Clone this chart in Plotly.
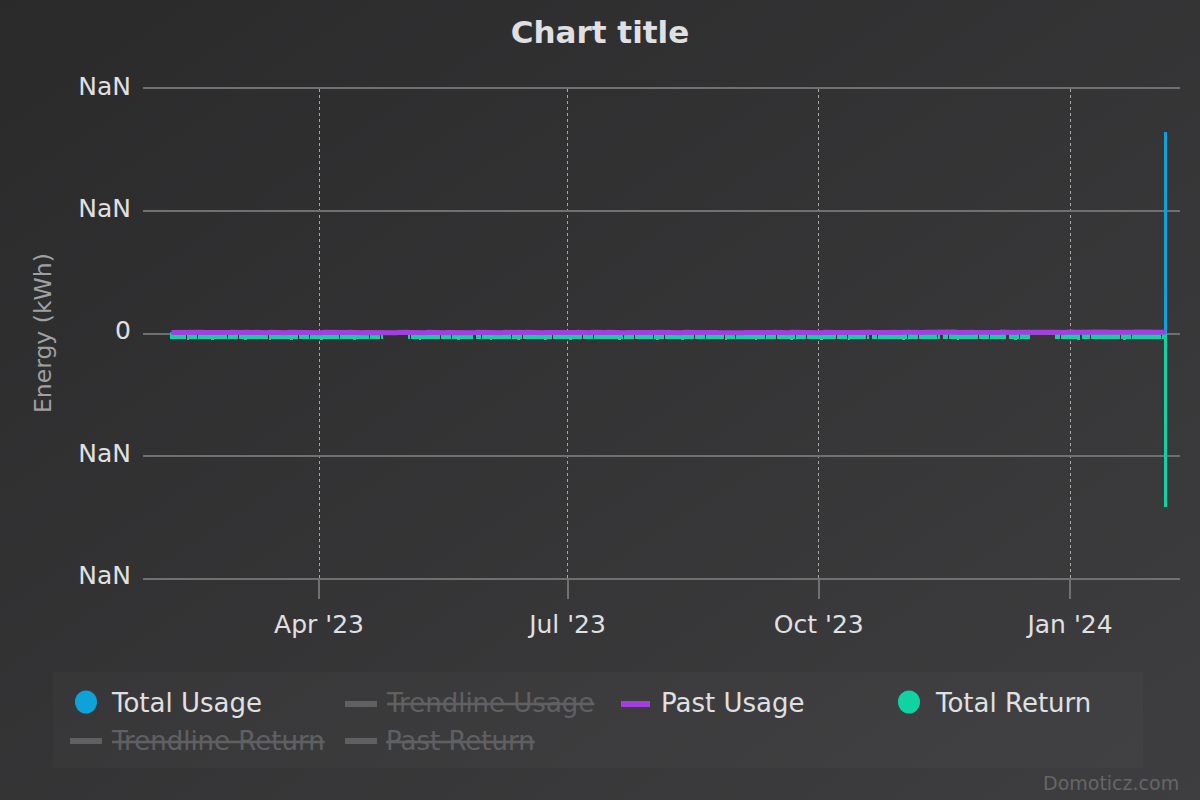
import base64
import pandas as pd
import plotly.graph_objects as go

# ---------------- data ----------------
start_date = "2023-02-06"
n_days = 365
dates = pd.date_range(start_date, periods=n_days, freq="D")

N = None
total_usage = [
    0.14,0.17,0.12,0.19,0.15,0.13,0.18,0.16,0.11,0.20,0.14,0.17,0.15,0.12,0.18,0.16,0.13,0.19,0.14,0.15,
    0.16,0.13,0.18,0.12,0.17,0.15,0.19,0.14,0.12,0.16,0.18,0.13,0.15,0.17,0.11,0.19,0.14,0.16,0.12,0.18,
    0.15,0.12,0.17,0.14,0.19,0.13,0.16,0.18,0.12,0.15,0.17,0.14,0.11,0.16,0.19,0.13,0.15,0.17,0.12,0.14,
    0.13,0.16,0.18,0.12,0.15,0.17,0.14,0.11,0.19,0.16,0.13,0.15,0.18,0.12,0.14,0.17,0.16,0.13,N,N,
    N,N,N,N,N,N,N,0.15,0.18,0.13,0.16,0.12,0.17,0.14,0.19,0.15,0.11,0.16,0.13,0.18,
    0.14,0.12,0.17,0.15,0.19,0.13,0.16,0.11,0.18,0.14,0.15,N,0.17,0.13,0.16,0.12,0.19,0.15,0.14,0.17,
    0.12,0.16,0.14,0.18,0.13,0.15,0.17,0.11,0.16,0.19,0.14,0.12,0.15,0.18,0.13,0.17,0.14,0.16,0.12,0.15,
    0.17,0.13,0.15,0.12,0.18,0.16,0.14,0.19,0.11,0.15,0.17,0.13,0.16,0.14,0.18,0.12,0.15,0.17,0.13,0.16,
    0.14,0.18,0.12,0.16,0.15,0.13,0.19,0.17,0.14,0.11,0.16,0.15,0.18,0.12,0.17,0.14,0.13,0.16,0.19,0.15,
    0.13,0.15,0.17,0.12,0.14,0.18,0.16,0.13,0.15,0.19,0.12,0.17,0.14,0.16,0.11,0.18,0.15,0.13,0.17,0.14,
    0.16,0.12,0.18,0.14,0.15,0.17,0.13,0.19,0.16,0.12,0.14,0.18,0.15,0.13,0.17,0.11,0.16,0.14,0.19,0.15,
    0.15,0.17,0.13,0.16,0.12,0.18,0.14,0.15,0.17,0.13,0.19,0.16,0.12,0.14,0.18,0.15,0.13,0.17,0.16,0.14,
    0.18,0.14,0.16,0.13,0.17,0.15,0.12,0.19,0.14,0.16,0.13,0.18,0.15,0.11,0.17,0.14,N,0.16,0.13,0.18,
    0.17,0.15,0.19,0.13,0.16,0.14,0.18,0.12,0.17,0.15,0.20,0.14,0.16,0.19,0.13,0.18,0.15,0.17,0.21,0.14,
    0.19,0.16,N,0.18,0.15,0.20,0.17,0.14,0.19,0.16,0.21,0.15,0.18,0.17,0.20,0.14,0.19,0.16,0.18,0.21,
    0.17,0.20,0.16,0.19,0.15,0.18,N,0.21,0.17,0.19,0.16,0.20,0.18,0.15,0.19,N,N,N,N,N,
    N,N,N,N,0.20,0.17,0.21,0.18,0.16,0.19,0.22,0.17,0.20,N,0.18,0.21,0.16,0.19,0.20,0.17,
    0.21,0.18,0.20,0.16,0.19,0.22,0.17,0.20,0.18,0.21,0.16,0.19,0.20,0.18,0.22,0.17,0.19,0.21,0.18,0.20,
    0.19,0.17,0.21,0.18,16.5,
]

total_return = [
    -0.46,-0.43,-0.49,-0.45,-0.48,-0.44,-0.50,-0.46,-0.42,-0.48,-0.45,-0.49,-0.44,-0.47,-0.43,-0.50,-0.46,-0.45,-0.48,-0.44,
    -0.47,-0.45,-0.42,-0.49,-0.46,-0.44,-0.48,-0.50,-0.45,-0.43,-0.47,-0.49,-0.44,-0.46,-0.48,-0.42,-0.50,-0.45,-0.47,-0.44,
    -0.45,-0.48,-0.44,-0.46,-0.50,-0.43,-0.47,-0.45,-0.49,-0.44,-0.46,-0.48,-0.42,-0.47,-0.45,-0.50,-0.44,-0.46,-0.49,-0.43,
    -0.48,-0.44,-0.46,-0.49,-0.43,-0.47,-0.45,-0.50,-0.44,-0.46,-0.48,-0.42,-0.47,-0.45,-0.49,-0.44,-0.46,-0.48,N,N,
    N,N,N,N,N,N,N,-0.45,-0.48,-0.43,-0.47,-0.50,-0.44,-0.46,-0.49,-0.45,-0.42,-0.48,-0.46,-0.44,
    -0.47,-0.43,-0.49,-0.45,-0.46,-0.50,-0.44,-0.48,-0.42,-0.47,-0.45,N,-0.49,-0.44,-0.46,-0.48,-0.43,-0.50,-0.45,-0.47,
    -0.44,-0.48,-0.46,-0.42,-0.49,-0.45,-0.47,-0.50,-0.43,-0.46,-0.48,-0.44,-0.45,-0.49,-0.47,-0.43,-0.46,-0.50,-0.44,-0.48,
    -0.45,-0.49,-0.43,-0.47,-0.46,-0.44,-0.50,-0.45,-0.48,-0.42,-0.47,-0.49,-0.44,-0.46,-0.48,-0.45,-0.43,-0.49,-0.47,-0.44,
    -0.48,-0.45,-0.47,-0.43,-0.50,-0.46,-0.44,-0.49,-0.45,-0.47,-0.42,-0.48,-0.46,-0.44,-0.49,-0.45,-0.47,-0.43,-0.50,-0.46,
    -0.44,-0.47,-0.49,-0.45,-0.43,-0.48,-0.46,-0.50,-0.44,-0.47,-0.45,-0.42,-0.49,-0.46,-0.48,-0.44,-0.45,-0.47,-0.43,-0.49,
    -0.46,-0.44,-0.48,-0.50,-0.45,-0.43,-0.47,-0.46,-0.49,-0.44,-0.48,-0.45,-0.42,-0.47,-0.50,-0.46,-0.44,-0.48,-0.45,-0.43,
    -0.49,-0.45,-0.44,-0.47,-0.46,-0.48,-0.43,-0.50,-0.45,-0.47,-0.44,-0.49,-0.46,-0.42,-0.48,-0.45,-0.47,-0.44,-0.50,-0.46,
    -0.45,-0.48,-0.43,-0.46,-0.49,-0.44,-0.47,-0.45,-0.50,-0.43,-0.46,-0.48,-0.44,-0.47,-0.45,-0.49,N,-0.46,-0.43,-0.48,
    -0.44,-0.47,-0.45,-0.49,-0.43,-0.46,-0.48,-0.44,-0.50,-0.45,-0.47,-0.42,-0.46,-0.49,-0.44,-0.48,-0.45,-0.43,-0.47,-0.46,
    -0.48,-0.44,N,-0.46,-0.49,-0.43,-0.47,-0.45,-0.50,-0.44,-0.46,-0.48,-0.42,-0.47,-0.45,-0.49,-0.44,-0.46,-0.48,-0.43,
    -0.47,-0.45,-0.49,-0.44,-0.46,-0.48,N,-0.43,-0.47,-0.50,-0.45,-0.46,-0.44,-0.48,-0.45,N,N,N,N,N,
    N,N,N,N,-0.46,-0.49,-0.44,-0.47,-0.45,-0.43,-0.48,-0.46,-0.50,N,-0.45,-0.47,-0.44,-0.49,-0.46,-0.43,
    -0.48,-0.45,-0.47,-0.44,-0.49,-0.46,-0.43,-0.48,-0.45,-0.50,-0.44,-0.47,-0.46,-0.49,-0.45,-0.43,-0.48,-0.46,-0.44,-0.47,
    -0.45,-0.49,-0.46,-0.44,-14.2,
]

past_usage = [
    0.08,0.09,0.07,0.10,0.08,0.06,0.09,0.11,0.08,0.07,0.09,0.10,0.08,0.07,0.09,0.08,0.10,0.06,0.09,0.08,
    0.07,0.09,0.10,0.08,0.06,0.09,0.08,0.11,0.07,0.09,0.08,0.10,0.07,0.08,0.09,0.06,0.10,0.08,0.09,0.07,
    0.09,0.08,0.06,0.10,0.09,0.07,0.08,0.11,0.09,0.07,0.08,0.10,0.06,0.09,0.08,0.07,0.10,0.09,0.08,0.06,
    0.08,0.10,0.09,0.07,0.08,0.11,0.09,0.06,0.08,0.10,0.07,0.09,0.08,0.10,0.07,0.09,0.11,0.08,0.07,0.09,
    0.10,0.08,0.07,0.09,0.06,0.08,0.10,0.09,0.07,0.08,0.11,0.09,0.08,0.06,0.10,0.08,0.09,0.07,0.10,0.08,
    0.07,0.09,0.08,0.10,0.06,0.09,0.07,0.08,0.11,0.09,0.08,0.07,0.10,0.09,0.06,0.08,0.09,0.10,0.07,0.08,
    0.09,0.07,0.10,0.08,0.09,0.06,0.08,0.11,0.07,0.09,0.10,0.08,0.07,0.09,0.08,0.10,0.06,0.09,0.08,0.07,
    0.08,0.10,0.07,0.09,0.08,0.11,0.06,0.09,0.08,0.10,0.07,0.08,0.09,0.07,0.10,0.08,0.09,0.06,0.10,0.08,
    0.10,0.08,0.09,0.06,0.08,0.10,0.07,0.09,0.08,0.07,0.11,0.09,0.08,0.10,0.07,0.09,0.06,0.08,0.10,0.09,
    0.07,0.09,0.08,0.10,0.07,0.08,0.09,0.06,0.10,0.08,0.09,0.07,0.11,0.08,0.09,0.07,0.08,0.10,0.06,0.09,
    0.08,0.07,0.10,0.09,0.08,0.06,0.09,0.10,0.08,0.07,0.09,0.08,0.11,0.07,0.09,0.08,0.10,0.06,0.08,0.09,
    0.09,0.10,0.08,0.07,0.09,0.08,0.06,0.10,0.09,0.08,0.07,0.10,0.08,0.09,0.11,0.07,0.08,0.09,0.07,0.10,
    0.08,0.09,0.07,0.10,0.08,0.09,0.11,0.08,0.07,0.10,0.09,0.08,0.10,0.07,0.09,0.08,0.10,0.09,0.11,0.08,
    0.10,0.09,0.08,0.11,0.09,0.10,0.08,0.12,0.09,0.10,0.11,0.09,0.08,0.10,0.12,0.09,0.10,0.11,0.09,0.10,
    0.11,0.09,0.12,0.10,0.09,0.11,0.10,0.12,0.09,0.11,0.10,0.09,0.12,0.11,0.10,0.09,0.11,0.12,0.10,0.11,
    0.12,0.10,0.11,0.09,0.12,0.10,0.11,0.12,0.10,0.09,0.11,0.12,0.10,0.11,0.09,0.12,0.11,0.10,0.12,0.11,
    0.10,0.12,0.11,0.10,0.12,0.11,0.09,0.12,0.11,0.10,0.12,0.10,0.11,0.12,0.10,0.11,0.12,0.10,0.11,0.12,
    0.11,0.10,0.12,0.11,0.10,0.12,0.11,0.12,0.10,0.11,0.12,0.11,0.10,0.12,0.11,0.10,0.12,0.11,0.12,0.10,
    0.11,0.12,0.10,0.11,0.12,
]

y_tickvals = [-20, -10, 0, 10, 20]
y_ticktext = ["NaN", "NaN", "0", "NaN", "NaN"]
x_tickvals = ["2023-04-01", "2023-07-01", "2023-10-01", "2024-01-01"]
x_range = ["2023-01-26 13:10", "2024-02-10 06:40"]

# ---------------- styling ----------------
FONT = "DejaVu Sans"
BLUE = "#0fa2d8"
GREEN = "#10d3a2"
PURPLE = "#a23fe0"
GRID = "#707073"
TEXT = "#E0E0E3"
HIDDEN = "#606063"

W, H = 1200, 800
L, R, T, B = 143, 1180, 89, 578


def PX(x):
    return (x - L) / (R - L)


def PY(y):
    return (B - y) / (B - T)


svg = (
    '<svg xmlns="http://www.w3.org/2000/svg" width="1200" height="800">'
    '<defs><linearGradient id="g" x1="0" y1="0" x2="1" y2="1">'
    '<stop offset="0" stop-color="#2a2a2b"/><stop offset="1" stop-color="#3e3e40"/>'
    '</linearGradient></defs><rect width="1200" height="800" fill="url(#g)"/></svg>'
)
bg_uri = "data:image/svg+xml;base64," + base64.b64encode(svg.encode()).decode()

fig = go.Figure()
day_ms = 86400000
fig.add_trace(go.Bar(x=dates, y=total_usage, name="Total Usage", marker=dict(color=BLUE, line=dict(width=0)),
                     width=0.95 * day_ms, showlegend=False))
fig.add_trace(go.Bar(x=dates, y=total_return, name="Total Return", marker=dict(color=GREEN, line=dict(width=0)),
                     width=0.95 * day_ms, showlegend=False))
fig.add_trace(go.Scatter(x=dates, y=past_usage, name="Past Usage", mode="lines",
                         line=dict(color=PURPLE, width=5), showlegend=False))

shapes = []
annotations = []

# legend box
shapes.append(dict(type="rect", xref="paper", yref="paper", x0=PX(53), x1=PX(1143), y0=PY(768), y1=PY(672),
                   fillcolor="rgba(255,255,255,0.025)", line=dict(width=0), layer="below"))


def legend_circle(cx, cy, color):
    shapes.append(dict(type="circle", xref="paper", yref="paper", xsizemode="pixel", ysizemode="pixel",
                       xanchor=PX(cx), yanchor=PY(cy), x0=-11, x1=11, y0=-11.5, y1=11.5,
                       fillcolor=color, line=dict(width=0)))


def legend_line(x0, x1, cy, color):
    shapes.append(dict(type="line", xref="paper", yref="paper", x0=PX(x0), x1=PX(x1), y0=PY(cy), y1=PY(cy),
                       line=dict(color=color, width=6)))


def legend_text(x, cy, text, hidden=False):
    color = HIDDEN if hidden else TEXT
    t = "<s>" + text + "</s>" if hidden else text
    annotations.append(dict(xref="paper", yref="paper", x=PX(x), y=PY(cy), xanchor="left", yanchor="middle",
                            text=t, showarrow=False, font=dict(family=FONT, size=26, color=color)))


legend_circle(86, 702, BLUE)
legend_text(109, 703, "Total Usage")
legend_line(345, 377, 704, HIDDEN)
legend_text(384, 703, "Trendline Usage", hidden=True)
legend_line(621, 650, 704, PURPLE)
legend_text(659, 703, "Past Usage")
legend_circle(909, 702, GREEN)
legend_text(933, 703, "Total Return")
legend_line(70, 102, 741, HIDDEN)
legend_text(109, 741, "Trendline Return", hidden=True)
legend_line(345, 377, 741, HIDDEN)
legend_text(384, 741, "Past Return", hidden=True)

# y axis title
annotations.append(dict(xref="paper", yref="paper", x=PX(43), y=PY(333), xanchor="center", yanchor="middle",
                        text="Energy (kWh)", textangle=-90, showarrow=False,
                        font=dict(family=FONT, size=23.5, color="#A0A0A3")))
# credits
annotations.append(dict(xref="paper", yref="paper", x=PX(1181), y=PY(783), xanchor="right", yanchor="middle",
                        text="Domoticz.com", showarrow=False, font=dict(family=FONT, size=19, color="#666666")))

fig.update_layout(
    width=W, height=H,
    margin=dict(l=L, r=W - R, t=T, b=H - B, pad=0),
    paper_bgcolor="#2a2a2b",
    plot_bgcolor="rgba(0,0,0,0)",
    barmode="relative",
    bargap=0,
    showlegend=False,
    font=dict(family=FONT, color=TEXT),
    title=dict(text="Chart title", x=0.5, xref="container", xanchor="center",
               y=1 - 32 / H, yref="container", yanchor="middle",
               font=dict(family=FONT, size=31, color=TEXT, weight="bold")),
    images=[dict(source=bg_uri, xref="paper", yref="paper", x=PX(0), y=PY(0), sizex=W / (R - L),
                 sizey=H / (B - T), xanchor="left", yanchor="top", sizing="stretch", layer="below")],
    shapes=shapes,
    annotations=annotations,
    xaxis=dict(
        type="date", range=x_range, tickvals=x_tickvals, tickformat="%b '%y",
        showgrid=True, gridcolor="#a8a8a8", griddash="dot", gridwidth=1,
        ticks="outside", ticklen=19, tickwidth=2, tickcolor=GRID,
        showline=True, mirror=True, linecolor=GRID, linewidth=2,
        tickfont=dict(family=FONT, size=25, color=TEXT),
        ticklabelstandoff=4, zeroline=False, fixedrange=True,
    ),
    yaxis=dict(
        range=[-20, 20], tickvals=y_tickvals, ticktext=y_ticktext,
        showgrid=True, gridcolor=GRID, gridwidth=2, zeroline=False,
        ticks="", showline=False,
        tickfont=dict(family=FONT, size=25, color=TEXT),
        ticklabelstandoff=11, ticklabelshift=-3, fixedrange=True,
    ),
)

fig.write_html("out.html")
